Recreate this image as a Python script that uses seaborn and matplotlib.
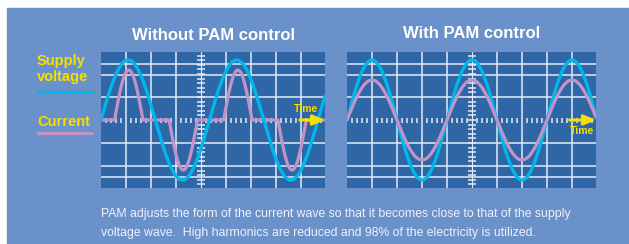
import numpy as np
import pandas as pd
import seaborn as sns
import matplotlib.pyplot as plt
from matplotlib.lines import Line2D
from matplotlib.patches import Rectangle

# --- values ------------------------------------------------------------
# x is measured in grid divisions, y in screen-ish units (0 = time axis)
volt_amp = 60                      # supply voltage amplitude (both panels)

left_span = 8.96                   # width of the left scope in divisions
left_period = 4.34                 # one mains cycle, divisions
left_cur_amp = 50                  # current pulse height
left_pulse_centres = [92, 273, 454, 634]   # degrees, pulse middles
left_pulse_half = 47               # degrees either side of the middle
left_vlines = [1, 2, 3, 5, 6, 7, 8]
left_axis_x = 4

right_span = 9.96
right_period = 4.0
right_cur_amp = 40
right_vlines = [1, 2, 3, 4, 6, 7, 8, 9]
right_axis_x = 5

hlines = [-56.5, -45.5, -23, 23, 45.5, 56.5]

titles = ["Without PAM control", "With PAM control"]
caption = ["PAM adjusts the form of the current wave so that it becomes close to that of the supply",
           "voltage wave.  High harmonics are reduced and 98% of the electricity is utilized."]

# colours
panel_col = "#6a91c9"
scope_col = "#2f66a5"
grid_col = "#e4ebf5"
volt_col = "#00b6ea"
cur_col = "#c293c8"
yellow = "#f6e000"

W, H = 629, 244


def fx(px):
    return px / W


def fy(py):
    return 1 - py / H


def left_waves():
    t = np.linspace(0, left_span, 1200)
    deg = t / left_period * 360
    v = volt_amp * np.sin(np.radians(deg))
    i = np.zeros_like(t)
    for k, c in enumerate(left_pulse_centres):
        m = np.abs(deg - c) < left_pulse_half
        sign = 1 if k % 2 == 0 else -1
        i[m] = sign * left_cur_amp * np.cos(np.radians((deg[m] - c) / left_pulse_half * 90))
    return pd.DataFrame({"t": t, "voltage": v, "current": i})


def right_waves():
    t = np.linspace(0, right_span, 1200)
    deg = t / right_period * 360
    v = volt_amp * np.sin(np.radians(deg))
    i = right_cur_amp * np.sin(np.radians(deg))
    return pd.DataFrame({"t": t, "voltage": v, "current": i})


def scope(ax, span, vlines, axis_x):
    ax.set_facecolor(scope_col)
    ax.set_xlim(0, span)
    ax.set_ylim(-68, 68)
    for s in ax.spines.values():
        s.set_visible(False)
    ax.set_xticks([])
    ax.set_yticks([])
    ax.set_xlabel("")
    ax.set_ylabel("")
    for x in vlines:
        ax.axvline(x, color=grid_col, lw=1.1, zorder=1)
    for y in hlines:
        ax.axhline(y, color=grid_col, lw=1.1, zorder=1)
    # centre cross with small scale marks
    ax.axvline(axis_x, color=grid_col, lw=0.8, zorder=1)
    ticks = [x for x in np.arange(0.2, span, 0.2) if abs(x - round(x)) > 0.05]
    ax.vlines(ticks, -2.5, 2.5, color=grid_col, lw=1.1, zorder=1)
    dashes = np.arange(-64.4, 66, 4.6)
    ax.hlines(dashes, axis_x - 0.17, axis_x + 0.17, color=grid_col, lw=1.1, zorder=1)


def time_arrow(ax, x0, x1, label_x, label_y):
    ax.annotate("", xy=(x1, 0), xytext=(x0, 0),
                arrowprops=dict(arrowstyle="-|>,head_length=0.7,head_width=0.3",
                                color=yellow, lw=2.2, shrinkA=0, shrinkB=0),
                zorder=6, annotation_clip=False)
    ax.text(label_x, label_y, "Time", color=yellow, fontsize=7.5, fontweight="bold",
            ha="center", va="center", zorder=6)


sns.set_style("white")
plt.rcParams["font.family"] = ["Liberation Sans", "DejaVu Sans"]

fig = plt.figure(figsize=(W / 100, H / 100), dpi=100, facecolor="white")
fig.patches.append(Rectangle((fx(7), 0), 1 - fx(7), fy(8), transform=fig.transFigure,
                             color=panel_col, zorder=-5))

ax1 = fig.add_axes([fx(101), 56 / H, 224 / W, 136 / H])
ax2 = fig.add_axes([fx(347), 56 / H, 249 / W, 136 / H])

dl = left_waves()
dr = right_waves()

sns.lineplot(data=dl, x="t", y="current", ax=ax1, color=cur_col, lw=2.3, estimator=None, zorder=3)
sns.lineplot(data=dl, x="t", y="voltage", ax=ax1, color=volt_col, lw=2.4, estimator=None, zorder=4)
sns.lineplot(data=dr, x="t", y="voltage", ax=ax2, color=volt_col, lw=2.4, estimator=None, zorder=3)
sns.lineplot(data=dr, x="t", y="current", ax=ax2, color=cur_col, lw=2.3, estimator=None, zorder=4)

scope(ax1, left_span, left_vlines, left_axis_x)
scope(ax2, right_span, right_vlines, right_axis_x)

time_arrow(ax1, 7.95, left_span, 8.18, 10.5)
time_arrow(ax2, 8.9, right_span, 9.4, -10.5)

# titles
fig.text(fx(213), fy(35), titles[0], color="white", fontsize=12, fontweight="bold",
         ha="center", va="center")
fig.text(fx(471.5), fy(33.5), titles[1], color="white", fontsize=12, fontweight="bold",
         ha="center", va="center")

# legend at the left
fig.text(fx(37), fy(65.5), "Supply", color=yellow, fontsize=10.5, fontweight="bold", va="baseline")
fig.text(fx(37), fy(80.5), "voltage", color=yellow, fontsize=10.5, fontweight="bold", va="baseline")
fig.text(fx(37), fy(126), "Current", color=yellow, fontsize=10.5, fontweight="bold", va="baseline")
fig.add_artist(Line2D([fx(38), fx(92)], [fy(92), fy(92)], color=volt_col, lw=2.3,
                      transform=fig.transFigure))
fig.add_artist(Line2D([fx(38), fx(92)], [fy(133), fy(133)], color=cur_col, lw=2.3,
                      transform=fig.transFigure))

# caption
fig.text(fx(101), fy(217), caption[0], color="#eef2f9", fontsize=8.8, va="baseline")
fig.text(fx(101), fy(236), caption[1], color="#eef2f9", fontsize=8.8, va="baseline")

fig.savefig("out.png", dpi=100, facecolor="white")
